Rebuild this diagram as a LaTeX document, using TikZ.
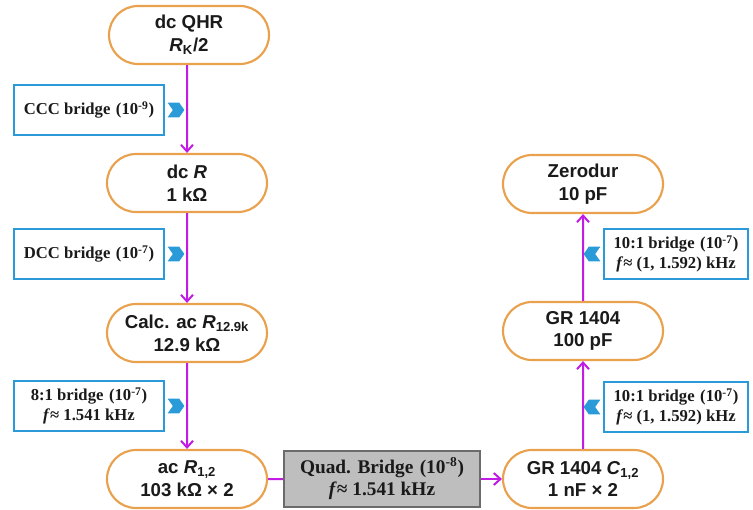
\documentclass[tikz,border=0pt]{standalone}
\usepackage{fontspec}
\setmainfont{Liberation Serif}
\setsansfont{Liberation Sans}
\usetikzlibrary{arrows.meta,shapes.misc,shapes.symbols}
\definecolor{amber}{HTML}{E9A14E}
\definecolor{sky}{HTML}{2A9BD8}
\definecolor{violet}{HTML}{C21BE6}
\definecolor{slate}{HTML}{6B6B6B}
\definecolor{stone}{HTML}{BEBEBE}
\definecolor{ink}{HTML}{1A1A1A}

\begin{document}
\begin{tikzpicture}[x=0.75pt,y=-0.75pt,text=ink,
 stage/.style={rounded rectangle,draw=amber,line width=1.6pt,fill=white,minimum width=122pt,minimum height=43.5pt,inner sep=1pt,align=center,font=\fontsize{14}{17}\selectfont\sffamily\bfseries},
 bridge/.style={draw=sky,line width=1.6pt,fill=white,minimum width=113pt,minimum height=37pt,inner sep=1pt,align=center,font=\fontsize{12.5}{15}\selectfont\bfseries},
 quad/.style={draw=slate,line width=1.4pt,fill=stone,minimum width=147pt,minimum height=42.5pt,inner sep=1pt,align=center,font=\fontsize{14.5}{16.5}\selectfont\bfseries},
 chev/.style={signal,fill=sky,draw=none,inner sep=0pt,minimum width=12.5pt,minimum height=11pt,signal pointer angle=110},
 arrow/.style={-{Straight Barb[length=5pt,width=9pt,line width=1.5pt]},draw=violet,line width=1.5pt},
 link/.style={draw=violet,line width=1.5pt}]
\path[use as bounding box] (0,0) rectangle (753,510);
\node[stage] (qhr) at (189,35) {dc QHR\\\textit{R}\textsubscript{K}/2};
\node[stage] (dcr) at (187,183) {dc \textit{R}\\1 kΩ};
\node[stage] (calc) at (187,333) {Calc. ac \textit{R}\textsubscript{12.9k}\\12.9 kΩ};
\node[stage] (acr) at (187,479) {ac \textit{R}\textsubscript{1,2}\\103 kΩ × 2};
\node[stage] (zero) at (583,184) {Zerodur\\10 pF};
\node[stage] (gr100) at (583,331) {GR 1404\\100 pF};
\node[stage] (grc) at (583,479) {GR 1404 \textit{C}\textsubscript{1,2}\\1 nF × 2};
\node[quad] (quad) at (382,479) {Quad. Bridge\,\,(10\textsuperscript{-8})\\\textit{f}≈ 1.541 kHz};
\node[bridge] (ccc) at (89,110) {CCC bridge\,\,(10\textsuperscript{-9})};
\node[bridge] (dcc) at (89,254) {DCC bridge\,\,(10\textsuperscript{-7})};
\node[bridge] (eight) at (89,406) {8:1 bridge\,\,(10\textsuperscript{-7})\\\textit{f}≈ 1.541 kHz};
\node[bridge,minimum width=108pt] (tenhi) at (676,254) {10:1 bridge\,\,(10\textsuperscript{-7})\\\textit{f}≈ (1, 1.592) kHz};
\node[bridge,minimum width=108pt] (tenlo) at (676,407) {10:1 bridge\,\,(10\textsuperscript{-7})\\\textit{f}≈ (1, 1.592) kHz};
\draw[arrow] (qhr.south -| dcr) -- (dcr);
\draw[arrow] (dcr) -- (calc);
\draw[arrow] (calc) -- (acr);
\draw[link] (acr) -- (quad);
\draw[arrow] (quad) -- (grc);
\draw[arrow] (grc) -- (gr100);
\draw[arrow] (gr100) -- (zero);
\node[chev,signal from=west,signal to=east] (ccc-mark) at (176,110) {};
\node[chev,signal from=west,signal to=east] (dcc-mark) at (176,254) {};
\node[chev,signal from=west,signal to=east] (eight-mark) at (176,406) {};
\node[chev,signal from=east,signal to=west] (tenhi-mark) at (592,254) {};
\node[chev,signal from=east,signal to=west] (tenlo-mark) at (592,407) {};
\end{tikzpicture}
\end{document}
